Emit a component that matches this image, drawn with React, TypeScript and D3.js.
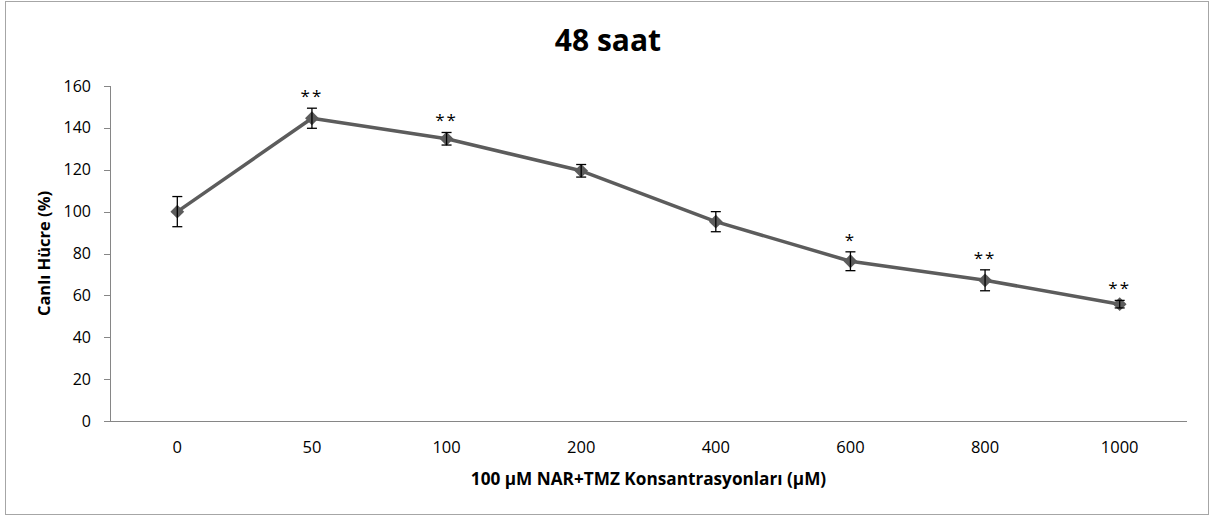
import React from "react";
import * as d3 from "d3";

const categories = ["0", "50", "100", "200", "400", "600", "800", "1000"];
const values = [100, 144.6, 134.8, 119.5, 95.2, 76.3, 67.2, 55.8];
const errors = [7.2, 4.8, 3.0, 3.0, 4.8, 4.5, 5.0, 1.8];
const stars = ["", "**", "**", "", "", "*", "**", "**"];
const yTicks = [0, 20, 40, 60, 80, 100, 120, 140, 160];

const W = 1218;
const H = 517;
const FONT = "'Open Sans', sans-serif";

export default function App() {
  const left = 110;
  const right = 1187;
  const top = 86;
  const bottom = 421;
  const x = d3.scaleBand().domain(categories).range([left, right]);
  const y = d3.scaleLinear().domain([0, 160]).range([bottom, top]);
  const cx = (c: string) => (x(c) as number) + x.bandwidth() / 2;
  const line = d3
    .line<number>()
    .x((_, i) => cx(categories[i]))
    .y((d) => y(d));
  const diamond = d3.symbol().type(d3.symbolSquare).size(95)() as string;

  return (
    <svg
      width={W}
      height={H}
      style={{ position: "absolute", left: 0, top: 0, background: "#fff" }}
    >
      <rect x={5.5} y={1.5} width={1203} height={513} fill="#fff" stroke="#a6a6a6" strokeWidth={1} />
      <text x={608} y={51} textAnchor="middle" fontFamily={FONT} fontWeight="bold" fontSize={30} fill="#000">
        48 saat
      </text>
      {/* y axis */}
      <line x1={left + 0.5} x2={left + 0.5} y1={top} y2={bottom} stroke="#868686" strokeWidth={1} />
      {yTicks.map((t) => (
        <g key={t}>
          <line x1={left - 6} x2={left} y1={Math.round(y(t)) + 0.5} y2={Math.round(y(t)) + 0.5} stroke="#868686" />
          <text x={left - 19} y={y(t) + 5.5} textAnchor="end" fontFamily={FONT} fontSize={16} fill="#000">
            {t}
          </text>
        </g>
      ))}
      {/* x axis */}
      <line x1={left} x2={right} y1={bottom + 0.5} y2={bottom + 0.5} stroke="#868686" strokeWidth={1} />
      {categories.map((c) => (
        <text key={c} x={cx(c)} y={453} textAnchor="middle" fontFamily={FONT} fontSize={16.5} fill="#000">
          {c}
        </text>
      ))}
      <text x={648.5} y={485} textAnchor="middle" fontFamily={FONT} fontWeight="bold" fontSize={17.2} fill="#000">
        100 µM NAR+TMZ Konsantrasyonları (µM)
      </text>
      <text
        transform={`translate(50,${253.5}) rotate(-90)`}
        textAnchor="middle"
        fontFamily={FONT}
        fontWeight="bold"
        fontSize={16.5}
        fill="#000"
      >
        Canlı Hücre (%)
      </text>
      {/* line */}
      <path d={line(values) as string} fill="none" stroke="#5c5c5c" strokeWidth={3.5} strokeLinejoin="round" />
      {values.map((v, i) => (
        <path
          key={"m" + i}
          d={diamond}
          transform={`translate(${cx(categories[i])},${y(v)}) rotate(45)`}
          fill="#5c5c5c"
        />
      ))}
      {/* error bars */}
      {values.map((v, i) => {
        const xc = cx(categories[i]);
        const y1 = y(v + errors[i]);
        const y2 = y(v - errors[i]);
        return (
          <g key={"e" + i} stroke="#000" strokeWidth={1.3}>
            <line x1={xc} x2={xc} y1={y1} y2={y2} />
            <line x1={xc - 5} x2={xc + 5} y1={y1} y2={y1} />
            <line x1={xc - 5} x2={xc + 5} y1={y2} y2={y2} />
          </g>
        );
      })}
      {stars.map((s, i) =>
        s ? (
          <text
            key={"s" + i}
            x={cx(categories[i])}
            y={y(values[i] + errors[i]) - 6}
            textAnchor="middle"
            fontFamily={FONT}
            fontSize={17}
            letterSpacing={2}
            fill="#000"
          >
            {s}
          </text>
        ) : null
      )}
    </svg>
  );
}
